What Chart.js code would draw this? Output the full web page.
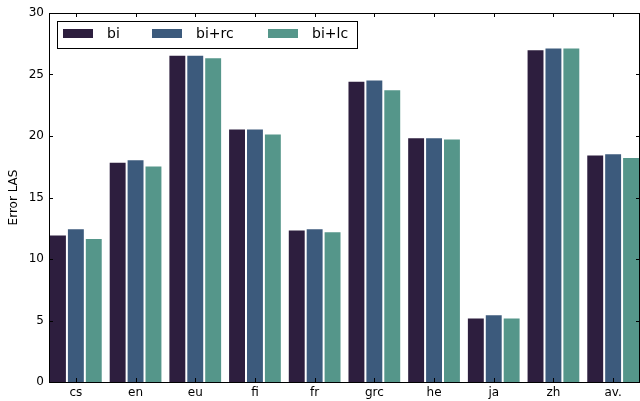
<!DOCTYPE html>
<html><head><meta charset="utf-8">
<script src="https://cdn.jsdelivr.net/npm/chart.js@4/dist/chart.umd.min.js"></script>
<style>html,body{margin:0;padding:0;background:#fff;}#wrap{width:640px;height:401px;}</style>
</head><body><div id="wrap"><canvas id="c" width="640" height="401"></canvas></div>
<script>
const categories = ["cs","en","eu","fi","fr","grc","he","ja","zh","av."];
const seriesNames = ["bi","bi+rc","bi+lc"];
const bi   = [12.0, 17.9, 26.6, 20.6, 12.4, 24.5, 19.9, 5.25, 27.05, 18.5];
const biRc = [12.5, 18.1, 26.6, 20.6, 12.5, 24.6, 19.9, 5.5, 27.2, 18.6];
const biLc = [11.7, 17.6, 26.4, 20.2, 12.25, 23.8, 19.8, 5.25, 27.2, 18.3];
const yTicks = [0,5,10,15,20,25,30];
const colors = ["#2d1e3e","#3c5a7c","#55968a"];

const FONT = "'DejaVu Sans', sans-serif";

const framePlugin = {
  id: 'frame',
  afterDraw(chart) {
    const ctx = chart.ctx, a = chart.chartArea;
    const xs = chart.scales.x, ys = chart.scales.y;
    ctx.save();
    ctx.strokeStyle = '#000';
    ctx.lineWidth = 1;
    ctx.strokeRect(Math.round(a.left)+0.5, Math.round(a.top)+0.5, Math.round(a.right-a.left)-1, Math.round(a.bottom-a.top));
    ctx.beginPath();
    for (let i = 0; i < categories.length; i++) {
      const x = Math.round(xs.getPixelForValue(i)) + 0.5;
      ctx.moveTo(x, a.bottom); ctx.lineTo(x, a.bottom - 4);
      ctx.moveTo(x, a.top); ctx.lineTo(x, a.top + 4);
    }
    for (const v of yTicks) {
      const y = Math.round(ys.getPixelForValue(v)) + 0.5;
      ctx.moveTo(a.left, y); ctx.lineTo(a.left + 4, y);
      ctx.moveTo(a.right, y); ctx.lineTo(a.right - 4, y);
    }
    ctx.stroke();
    // legend
    const lx = 57, ly = 21, lw = 300, lh = 27;
    ctx.fillStyle = '#fff';
    ctx.fillRect(lx, ly, lw, lh);
    ctx.strokeRect(lx + 0.5, ly + 0.5, lw, lh);
    const starts = [63, 152, 268];
    ctx.font = "14px " + FONT;
    ctx.textBaseline = 'middle';
    chart.data.datasets.forEach((ds, i) => {
      ctx.fillStyle = ds.backgroundColor;
      ctx.fillRect(starts[i], 29, 30, 9);
      ctx.fillStyle = '#000';
      ctx.fillText(ds.label, starts[i] + 44, ly + 13);
    });
    ctx.restore();
  }
};

const toPts = arr => arr.map((v, i) => ({x: i, y: v}));

new Chart(document.getElementById('c'), {
  type: 'bar',
  data: {
    datasets: [
      {label: seriesNames[0], data: toPts(bi),   backgroundColor: colors[0]},
      {label: seriesNames[1], data: toPts(biRc), backgroundColor: colors[1]},
      {label: seriesNames[2], data: toPts(biLc), backgroundColor: colors[2]}
    ].map(d => Object.assign(d, {borderColor: 'rgba(255,255,255,0.85)', borderWidth: 1, categoryPercentage: 0.9, barPercentage: 1.0}))
  },
  options: {
    responsive: false,
    animation: false,
    devicePixelRatio: 1,
    layout: {padding: {top: 13, right: 0, left: 0, bottom: 0}},
    plugins: {legend: {display: false}, tooltip: {enabled: false}},
    scales: {
      x: {
        type: 'linear',
        min: -0.45, max: 9.45,
        offset: false,
        afterBuildTicks(s) { s.ticks = categories.map((c, i) => ({value: i})); },
        grid: {display: false, drawTicks: false},
        border: {display: false},
        ticks: {color: '#000', font: {family: FONT, size: 12}, padding: 4, maxRotation: 0, autoSkip: false,
                callback: (v) => categories[v]},
        afterFit(s) { s.height = 19; }
      },
      y: {
        min: 0, max: 30,
        afterBuildTicks(s) { s.ticks = yTicks.map(v => ({value: v})); },
        grid: {display: false, drawTicks: false},
        border: {display: false},
        ticks: {color: '#000', font: {family: FONT, size: 12}, padding: 5},
        title: {display: true, text: 'Error LAS', color: '#000', font: {family: FONT, size: 12}, padding: {top: 7, bottom: 0}},
        afterFit(s) { s.width = 49; }
      }
    }
  },
  plugins: [framePlugin]
});
</script>
</body></html>
